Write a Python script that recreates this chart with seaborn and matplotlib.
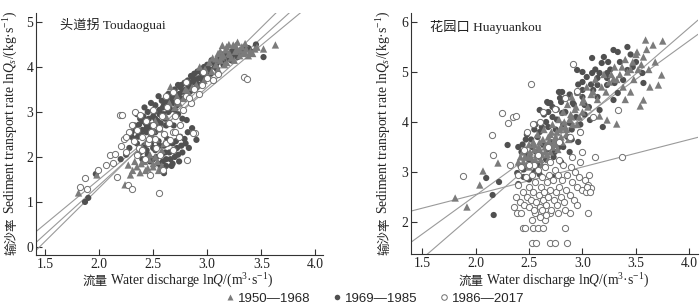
import matplotlib
matplotlib.use("Agg")
import matplotlib.pyplot as plt
from matplotlib.lines import Line2D
import numpy as np
import pandas as pd
import seaborn as sns

# ---------------- data: Toudaoguai (left) ----------------
L_tri_x = [1.81, 1.98, 2.24, 2.27, 2.29, 2.35, 2.38, 2.42, 2.45, 2.47, 2.50, 2.52, 2.55, 2.40, 2.44, 2.58, 2.62,
           2.66, 2.70, 2.74, 2.78, 2.82, 2.86, 2.90, 2.93, 2.97, 3.00, 3.04, 3.08, 3.12, 3.15, 3.18, 3.20, 3.22,
           3.24, 3.26, 3.28, 3.30, 3.33, 3.36, 3.40, 3.46, 3.52, 3.63, 3.16, 3.10, 2.48, 2.53, 2.60, 2.36,
           3.12, 3.18, 3.25, 3.32, 3.38, 3.05, 3.20, 3.28, 2.98, 3.10, 3.42, 3.14, 2.52, 2.57, 2.65, 2.72,
           2.80, 2.50, 3.13, 3.17, 3.21, 3.26, 3.30, 3.35, 3.08, 3.02, 3.35, 3.44, 2.46, 2.50, 2.54, 2.58,
           2.43, 2.39, 2.33, 2.31]
L_tri_y = [1.20, 1.60, 1.38, 1.82, 1.60, 1.78, 1.65, 1.90, 1.75, 2.05, 1.85, 2.00, 1.70, 2.20, 2.35, 2.15, 2.90,
           3.56, 3.10, 3.20, 3.30, 3.45, 3.55, 3.60, 4.00, 3.70, 3.80, 3.90, 4.05, 4.15, 4.25, 4.10, 4.30, 4.20,
           4.49, 4.35, 4.55, 4.25, 4.30, 4.40, 4.35, 4.44, 4.40, 4.49, 4.05, 3.95, 2.50, 2.40, 2.30, 2.10,
           4.35, 4.45, 4.15, 4.45, 4.25, 4.20, 4.50, 4.38, 3.95, 4.30, 4.30, 4.48, 2.80, 2.62, 3.20, 3.35,
           3.50, 2.60, 4.22, 4.38, 4.28, 4.48, 4.38, 4.32, 4.18, 4.10, 4.52, 4.40, 1.95, 1.78, 1.90, 1.80,
           1.70, 1.85, 1.90, 1.70]
L_fil_x = [2.42, 2.45, 2.48, 2.50, 2.52, 2.55, 2.55, 2.58, 2.60, 2.60, 2.62, 2.63, 2.65, 2.67, 2.68, 2.70, 2.72,
           2.74, 2.75, 2.77, 2.80, 2.82, 2.86, 2.81, 2.90, 2.35, 2.38, 2.40, 2.30, 2.28,
           2.30, 2.33, 2.36, 2.38, 2.40, 2.43, 2.45, 2.47, 2.50, 2.52, 2.54, 2.56, 2.58, 2.60, 2.62, 2.64, 2.66,
           2.68, 2.70, 2.72, 2.74, 2.76, 2.78, 2.80, 2.82, 2.84, 2.86, 2.88, 2.90, 2.92, 2.94, 2.96, 2.98, 3.00,
           3.03, 3.06, 3.09, 3.12, 3.15, 3.18, 3.22, 3.26, 3.30, 3.35, 3.40, 3.45, 3.52, 2.48, 2.55, 2.62, 2.35,
           2.42, 2.60, 2.66, 2.70, 2.75, 2.83, 2.87, 2.91, 2.95, 3.02, 2.58, 2.52, 2.45, 2.40, 2.44, 2.48, 2.57,
           2.64, 2.69, 2.73, 2.77, 3.07, 3.16, 3.24, 3.32, 3.38, 1.87, 1.90, 1.97, 2.20, 2.25]
L_fil_y = [2.25, 2.05, 2.30, 1.95, 2.15, 2.35, 1.85, 2.05, 2.25, 1.64, 1.95, 2.40, 2.10, 1.80, 2.30, 2.00, 2.20,
           1.90, 2.45, 2.10, 2.30, 2.55, 2.64, 2.82, 2.38, 2.30, 2.10, 1.95, 2.45, 2.20,
           2.55, 2.70, 2.45, 2.85, 2.60, 2.75, 3.00, 2.65, 2.90, 3.15, 2.80, 3.05, 3.25, 2.95, 3.20, 3.40, 3.05,
           3.30, 3.50, 3.15, 3.40, 3.60, 3.30, 3.50, 3.70, 3.45, 3.65, 3.85, 3.55, 3.75, 3.95, 3.70, 3.90, 4.05,
           3.85, 4.10, 3.95, 4.20, 4.05, 4.30, 4.15, 4.40, 4.28, 4.45, 4.35, 4.50, 4.22, 3.20, 3.35, 2.70, 2.95,
           3.10, 3.15, 3.28, 3.05, 3.55, 3.60, 3.75, 3.62, 3.85, 3.95, 2.95, 2.85, 2.72, 2.80, 2.55, 2.70, 2.75,
           3.00, 2.70, 2.95, 2.85, 4.00, 4.15, 4.25, 4.35, 4.42, 1.00, 1.09, 1.62, 1.95, 2.05]
L_fil_band_x = [2.32, 2.34, 2.37, 2.39, 2.41, 2.44, 2.46, 2.49, 2.51, 2.53, 2.56, 2.59, 2.61, 2.63, 2.65, 2.67,
                2.69, 2.71, 2.73, 2.75, 2.77, 2.79, 2.81, 2.83, 2.85, 2.87, 2.89, 2.91, 2.93, 2.95, 2.97, 2.99,
                3.01, 3.04, 3.08, 3.11, 3.14, 3.19, 3.23, 3.28,
                2.44, 2.47, 2.50, 2.53, 2.56, 2.59, 2.61, 2.64, 2.66, 2.69, 2.71, 2.73, 2.76, 2.79, 2.83, 2.57,
                2.62, 2.68, 2.48, 2.52]
L_fil_band_y = [2.40, 2.60, 2.72, 2.50, 2.90, 2.65, 2.85, 2.60, 3.00, 2.75, 2.95, 3.10, 2.85, 3.25, 3.15, 3.40,
                3.20, 3.35, 3.60, 3.30, 3.45, 3.65, 3.40, 3.55, 3.80, 3.50, 3.70, 3.90, 3.60, 3.75, 4.00, 3.80,
                3.95, 4.15, 4.05, 4.12, 4.28, 4.20, 4.35, 4.22,
                2.15, 1.90, 2.20, 2.00, 2.25, 1.90, 2.10, 2.30, 1.95, 2.15, 2.35, 2.05, 2.25, 2.40, 2.20, 1.75,
                1.80, 1.85, 2.45, 2.55]
L_opn_x = [1.82, 1.87, 1.89, 1.99, 2.06, 2.10, 2.13, 2.15, 2.17, 2.19, 2.27, 2.30, 2.30, 2.33, 2.38, 2.55, 2.58,
           2.81, 2.89, 3.34, 3.37, 2.20, 2.23, 2.25, 2.28, 2.32, 2.35, 2.37, 2.40, 2.43, 2.45, 2.48, 2.50, 2.52,
           2.55, 2.58, 2.60, 2.63, 2.65, 2.68, 2.70, 2.72, 2.75, 2.78, 2.80, 2.85, 2.88, 2.92, 2.95, 3.00,
           2.25, 2.40, 2.46, 2.53, 2.62, 2.66, 2.70, 2.74, 2.50, 2.62, 2.68, 2.83, 2.96, 2.80, 3.05, 3.10,
           2.21, 2.47, 2.59, 2.87, 2.35, 2.42, 2.56, 2.68]
L_opn_y = [1.33, 1.53, 1.29, 1.71, 1.82, 2.04, 1.87, 2.07, 1.56, 2.93, 1.38, 1.29, 2.70, 3.00, 2.93, 1.20, 1.71,
           1.93, 2.53, 3.78, 3.73, 2.25, 2.40, 2.10, 2.55, 2.35, 2.60, 2.20, 2.45, 2.80, 2.30, 2.55, 2.70, 2.40,
           2.65, 2.90, 2.50, 3.10, 2.75, 2.55, 2.90, 3.25, 2.70, 3.05, 3.35, 3.20, 3.50, 3.40, 3.60, 3.75,
           2.45, 2.15, 2.40, 2.20, 2.30, 2.38, 2.55, 2.45, 3.05, 3.35, 3.45, 3.30, 3.89, 3.67, 3.70, 3.85,
           2.93, 1.60, 1.71, 2.53, 2.05, 1.95, 2.05, 2.15]

# ---------------- data: Huayuankou (right) ----------------
R_tri_x = [1.81, 1.92, 2.04, 2.07, 2.21,
           2.40, 2.44, 2.48, 2.50, 2.52, 2.54, 2.56, 2.58, 2.60, 2.62, 2.64, 2.66, 2.68, 2.70, 2.72, 2.74, 2.76,
           2.78, 2.80, 2.82, 2.84, 2.86, 2.88, 2.90, 2.93, 2.96, 3.00, 3.04, 3.08, 3.12, 3.16, 3.20, 3.25, 3.30,
           3.35, 3.40, 3.45, 3.50, 3.55, 3.60,
           3.59, 3.66, 3.75, 3.51, 3.74, 3.71, 3.57, 3.54, 3.32, 3.23, 3.29, 3.63, 3.45, 3.40, 3.48, 3.68, 3.62,
           3.38, 2.55, 2.60, 2.65, 2.70, 2.75, 2.80, 2.85, 2.90, 2.95, 3.00, 2.62, 2.68, 2.72, 2.50, 2.46, 2.58]
R_tri_y = [2.48, 2.30, 2.74, 3.02, 3.18,
           3.20, 3.40, 3.15, 3.55, 3.30, 3.60, 3.25, 3.75, 3.45, 3.35, 3.85, 3.55, 3.70, 3.40, 3.95, 3.65, 3.80,
           4.05, 3.70, 4.20, 3.90, 4.35, 4.05, 4.50, 4.25, 4.60, 4.40, 4.70, 4.55, 4.85, 4.12, 4.95, 4.80, 5.10,
           4.95, 5.25, 5.05, 5.35, 5.15, 5.45,
           5.64, 5.54, 5.62, 5.40, 4.94, 4.74, 4.44, 4.32, 3.96, 4.04, 4.86, 4.70, 4.60, 4.45, 4.85, 5.20, 5.05,
           4.70, 3.45, 3.60, 3.40, 3.75, 3.55, 3.90, 3.75, 4.10, 3.95, 4.20, 3.15, 3.25, 3.50, 3.10, 3.30, 3.05]
R_tri_band_x = [2.42, 2.45, 2.47, 2.49, 2.51, 2.53, 2.55, 2.57, 2.59, 2.61, 2.63, 2.65, 2.67, 2.69, 2.71, 2.73,
                2.75, 2.77, 2.79, 2.81, 2.83, 2.85, 2.87, 2.89, 2.91, 2.94, 2.97, 3.01, 3.05, 3.10, 3.14, 3.18,
                3.22, 3.27, 3.32, 3.37, 3.42, 3.47, 3.52, 3.57]
R_tri_band_y = [3.30, 3.20, 3.45, 3.30, 3.40, 3.20, 3.55, 3.35, 3.50, 3.25, 3.65, 3.50, 3.35, 3.60, 3.80, 3.55,
                3.70, 3.45, 3.85, 3.60, 4.00, 3.85, 3.65, 4.15, 3.95, 4.30, 4.10, 4.45, 4.30, 4.60, 4.45, 4.70,
                4.60, 4.95, 4.85, 5.10, 5.00, 5.20, 5.05, 5.30]
R_fil_x = [2.10, 2.16, 2.17, 2.22, 2.40, 2.42, 2.30, 2.39, 2.43,
           3.09, 3.18, 3.24, 3.33, 3.42, 3.29, 2.95, 3.00, 3.09, 3.16, 3.23, 3.14, 3.23, 3.14, 3.23, 3.00, 3.00,
           3.10, 2.95, 2.81, 2.79, 2.84, 2.70, 2.68, 2.81, 2.91, 3.02, 3.14, 3.29, 3.33, 3.42, 3.47, 3.56, 3.57,
           3.38, 3.30, 3.16, 3.07, 2.88, 3.19, 2.60, 2.67,
           2.45, 2.48, 2.52, 2.55, 2.57, 2.60, 2.63, 2.65, 2.67, 2.70, 2.73, 2.75, 2.78, 2.82, 2.86, 2.90, 2.94,
           2.98, 3.02, 3.06, 2.58, 2.62, 2.66, 2.72, 2.76, 2.53, 2.47, 2.40, 2.55, 2.45, 2.50, 2.60, 2.72, 2.80,
           2.88, 2.96, 2.68, 2.78]
R_fil_y = [2.88, 2.54, 2.14, 2.80, 2.76, 3.12, 3.54, 2.98, 3.40,
           5.28, 5.18, 5.20, 5.40, 5.50, 5.44, 5.04, 5.00, 4.98, 4.98, 4.98, 4.88, 4.88, 4.74, 4.74, 4.80, 4.64,
           4.64, 4.58, 4.60, 4.48, 4.48, 4.38, 4.20, 4.18, 4.38, 4.34, 4.50, 4.44, 4.58, 5.04, 5.10, 4.98, 4.78,
           4.84, 4.78, 4.24, 4.04, 3.98, 3.90, 4.24, 4.40,
           3.05, 3.35, 3.20, 3.00, 3.40, 3.30, 3.55, 3.10, 3.45, 3.60, 3.30, 3.85, 3.50, 3.95, 3.70, 3.85, 4.10,
           3.95, 4.15, 4.30, 3.70, 3.90, 4.00, 4.10, 4.25, 3.50, 3.65, 3.50, 3.85, 2.90, 2.85, 2.95, 2.90, 3.20,
           3.40, 3.60, 4.38, 4.60]
R_fil_band_x = [2.44, 2.48, 2.52, 2.56, 2.60, 2.64, 2.68, 2.72, 2.76, 2.80, 2.84, 2.88, 2.92, 2.96, 3.00, 3.04,
                3.08, 3.12, 3.20, 3.26, 3.35, 3.45, 3.50, 2.50, 2.58, 2.66, 2.74, 2.82, 2.90, 2.98]
R_fil_band_y = [3.55, 3.75, 3.65, 3.95, 3.80, 4.15, 3.90, 4.30, 4.05, 4.40, 4.20, 4.55, 4.35, 4.75, 4.50, 4.90,
                4.75, 5.05, 5.30, 5.05, 5.20, 5.35, 5.20, 3.25, 3.15, 3.25, 3.40, 3.50, 3.65, 3.80]
R_opn_x = [2.15, 2.25, 2.30, 2.35, 2.38, 2.52, 2.54, 2.60, 2.63, 2.74, 2.84, 2.91, 2.95, 3.33, 1.88, 2.16, 2.32,
           3.37, 2.45, 2.48,
           2.53, 2.57, 2.70, 2.74, 2.86, 2.44, 2.46, 2.54, 2.58, 2.63, 2.84, 2.53, 2.65, 2.39, 2.43, 2.56, 2.70,
           2.77, 2.88, 3.05,
           2.36, 2.38, 2.40, 2.42, 2.44, 2.45, 2.47, 2.48, 2.50, 2.50, 2.52, 2.53, 2.54, 2.55, 2.56, 2.57, 2.58,
           2.59, 2.60, 2.61, 2.62, 2.63, 2.64, 2.65, 2.66, 2.67, 2.68, 2.69, 2.70, 2.71, 2.72, 2.73, 2.74, 2.75,
           2.76, 2.77, 2.78, 2.80, 2.81, 2.82, 2.83, 2.85, 2.86, 2.88, 2.89, 2.90, 2.92, 2.93, 2.95, 2.97, 2.98,
           3.00, 3.02, 3.03, 3.05, 3.06, 3.08, 2.95, 3.04, 3.07, 2.40, 2.43, 2.55, 2.60, 2.62, 2.66, 2.84, 2.90,
           2.78, 2.70, 2.50, 2.58, 2.68, 2.78, 2.88, 2.98, 3.10, 3.00, 3.12]
R_opn_y = [3.74, 4.18, 3.98, 4.10, 4.12, 4.76, 3.96, 4.00, 4.20, 4.26, 4.48, 5.16, 4.62, 4.24, 2.92, 3.34, 3.14,
           3.30, 3.45, 3.80,
           1.58, 1.58, 1.58, 1.58, 1.58, 1.88, 1.88, 1.88, 1.88, 1.88, 1.88, 2.05, 2.05, 2.18, 2.18, 2.18, 2.18,
           2.18, 2.18, 2.18,
           2.30, 2.50, 2.75, 2.40, 2.60, 2.35, 2.90, 2.50, 2.30, 2.70, 2.45, 2.95, 2.60, 2.25, 2.80, 2.40, 3.05,
           2.55, 2.30, 2.70, 2.90, 2.45, 2.60, 3.10, 2.35, 2.80, 2.50, 2.95, 2.65, 2.25, 2.85, 2.45, 3.05, 2.60,
           2.35, 2.95, 2.70, 2.50, 2.85, 3.15, 2.40, 2.65, 2.95, 2.55, 3.10, 2.80, 2.45, 3.00, 2.70, 2.90, 3.20,
           2.65, 2.85, 2.60, 2.75, 2.95, 2.68, 2.35, 2.70, 2.60, 2.95, 3.10, 3.15, 2.10, 2.25, 2.15, 2.25, 3.30,
           3.25, 3.20, 3.15, 3.35, 3.50, 3.60, 3.70, 3.80, 4.10, 3.40, 3.30]

# fitted lines: intercept + slope * x
L_line_intercept = [-3.45, -2.99, -2.48]
L_line_slope = [2.38, 2.18, 1.99]
R_line_intercept = [1.45, -0.57, -1.51]
R_line_slope = [0.55, 1.55, 1.85]

periods = ["1950\u20141968", "1969\u20141985", "1986\u20142017"]

# ---------------- style ----------------
sns.set_style("ticks")
plt.rcParams["font.family"] = ["Liberation Serif", "Noto Sans CJK SC"]
plt.rcParams["mathtext.fontset"] = "custom"
plt.rcParams["mathtext.rm"] = "Liberation Serif"
plt.rcParams["mathtext.it"] = "Liberation Serif:italic"
plt.rcParams["mathtext.bf"] = "Liberation Serif:bold"

TRI_C = "#7b7b7b"
FIL_C = "#505050"
OPN_C = "#6e6e6e"
LINE_C = "#9a9a9a"
FS = 9.5
TICK_FS = 9.8

fig = plt.figure(figsize=(7.0, 3.07), dpi=100)
axL = fig.add_axes([36 / 700, 1 - 255 / 307, 287 / 700, 242 / 307])
axR = fig.add_axes([411 / 700, 1 - 254 / 307, 287 / 700, 241 / 307])


def frame(xs, ys):
    return pd.DataFrame({"x": xs, "y": ys})


def draw(ax, tri, fil, opn, icpt, slope, xlim):
    xx = np.array(xlim)
    for a, b in zip(icpt, slope):
        ax.plot(xx, a + b * xx, color=LINE_C, lw=0.8, zorder=1)
    sns.scatterplot(data=frame(*fil), x="x", y="y", ax=ax, marker="o", s=20,
                    color=FIL_C, edgecolor="none", zorder=2)
    sns.scatterplot(data=frame(*tri), x="x", y="y", ax=ax, marker="^", s=28,
                    color=TRI_C, edgecolor="none", zorder=3)
    sns.scatterplot(data=frame(*opn), x="x", y="y", ax=ax, marker="o", s=20,
                    facecolor="white", edgecolor=OPN_C, linewidth=0.7, zorder=4)


draw(axL, (L_tri_x, L_tri_y), (L_fil_x + L_fil_band_x, L_fil_y + L_fil_band_y), (L_opn_x, L_opn_y),
     L_line_intercept, L_line_slope, (1.417, 4.07))
draw(axR, (R_tri_x + R_tri_band_x, R_tri_y + R_tri_band_y), (R_fil_x + R_fil_band_x, R_fil_y + R_fil_band_y),
     (R_opn_x, R_opn_y), R_line_intercept, R_line_slope, (1.397, 4.08))

axL.set_xlim(1.417, 4.07)
axL.set_ylim(-0.18, 5.2)
axL.set_yticks([0, 1, 2, 3, 4, 5])
axR.set_xlim(1.397, 4.08)
axR.set_ylim(1.36, 6.18)
axR.set_yticks([2, 3, 4, 5, 6])

for ax in (axL, axR):
    ax.set_xticks([1.5, 2.0, 2.5, 3.0, 3.5, 4.0])
    ax.set_xticklabels(["1.5", "2.0", "2.5", "3.0", "3.5", "4.0"])
    ax.set_xlabel("")
    ax.set_ylabel("")
    for s in ("top", "right"):
        ax.spines[s].set_visible(False)
    for s in ("left", "bottom"):
        ax.spines[s].set_color("#333333")
        ax.spines[s].set_linewidth(0.8)
    ax.tick_params(direction="in", length=4, width=0.8, color="#333333",
                   labelsize=TICK_FS, pad=2, labelcolor="#222222")

axL.text(0.084, 0.95, "头道拐 Toudaoguai", transform=axL.transAxes, fontsize=FS,
         va="center", ha="left", color="#222222")
axR.text(0.066, 0.94, "花园口 Huayuankou", transform=axR.transAxes, fontsize=FS,
         va="center", ha="left", color="#222222")

# ---------------- composite axis labels (CJK + serif/mathtext) ----------------
fig.canvas.draw()
renderer = fig.canvas.get_renderer()
W, H = fig.get_size_inches() * fig.dpi

CJK = {"family": "Noto Sans CJK SC", "fontsize": FS - 0.5, "color": "#222222"}
SER = {"family": "Liberation Serif", "fontsize": FS + 0.3, "color": "#222222"}


def measure(s, kw):
    t = fig.text(0, 0, s, **kw)
    w = t.get_window_extent(renderer).width
    t.remove()
    return w


def chain(pieces, cx, cy, vertical=False, gap=3):
    widths = [measure(s, kw) for s, kw in pieces]
    total = sum(widths) + gap * (len(pieces) - 1)
    pos = -total / 2
    for (s, kw), w in zip(pieces, widths):
        if vertical:
            fig.text(cx / W, (cy + pos) / H, s, rotation=90, rotation_mode="anchor",
                     ha="left", va="baseline", **kw)
        else:
            fig.text((cx + pos) / W, cy / H, s, ha="left", va="baseline", **kw)
        pos += w + gap


xlab = [("流量", CJK), (r"Water discharge ln$Q$/(m$^{3}$·s$^{-1}$)", SER)]
ylab = [("输沙率", CJK), (r"Sediment transport rate ln$Q_{s}$/(kg·s$^{-1}$)", SER)]

chain(xlab, 178, 307 - 285)
chain(xlab, 554, 307 - 285)
chain(ylab, 15, 307 - 133, vertical=True)
chain(ylab, 388, 307 - 133, vertical=True)

# ---------------- legend ----------------
handles = [
    Line2D([], [], ls="none", marker="^", ms=4.5, mfc=TRI_C, mec="none"),
    Line2D([], [], ls="none", marker="o", ms=4, mfc=FIL_C, mec="none"),
    Line2D([], [], ls="none", marker="o", ms=4, mfc="white", mec=OPN_C, mew=0.7),
]
fig.legend(handles, periods, loc="center", bbox_to_anchor=(0.535, 0.028), ncol=3,
           frameon=False, handletextpad=0.2, columnspacing=1.6, handlelength=0.8,
           prop={"family": "Liberation Sans", "size": FS})

fig.savefig("out.png", dpi=100)
